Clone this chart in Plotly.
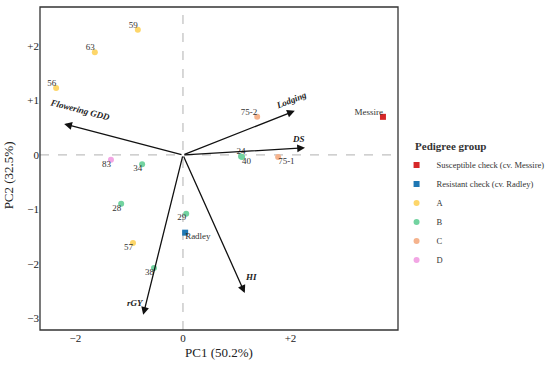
import plotly.graph_objects as go

# Genotype scores
names = ["59", "63", "56", "57", "83", "34", "28", "29", "38", "24", "40", "75-2", "75-1", "Messire", "Radley"]
groups = ["A", "A", "A", "A", "D", "B", "B", "B", "B", "B", "B", "C", "C",
          "Susceptible check (cv. Messire)", "Resistant check (cv. Radley)"]
pc1 = [-0.84, -1.64, -2.36, -0.93, -1.34, -0.76, -1.15, 0.06, -0.54, 1.08, 1.10, 1.38, 1.77, 3.72, 0.04]
pc2 = [2.30, 1.89, 1.23, -1.62, -0.09, -0.17, -0.90, -1.08, -2.08, -0.03, -0.04, 0.70, -0.04, 0.70, -1.43]

# Trait loadings (scaled)
traits = ["Flowering GDD", "Lodging", "DS", "HI", "rGY"]
load1 = [-2.21, 2.08, 2.27, 1.15, -0.74]
load2 = [0.57, 0.81, 0.13, -2.54, -2.94]

group_order = ["Susceptible check (cv. Messire)", "Resistant check (cv. Radley)", "A", "B", "C", "D"]
colors = {"Susceptible check (cv. Messire)": "#d62728", "Resistant check (cv. Radley)": "#1f77b4",
          "A": "#fdd66a", "B": "#72d3a0", "C": "#f5b38d", "D": "#f2a6e4"}
symbols = {"Susceptible check (cv. Messire)": "square", "Resistant check (cv. Radley)": "square"}

label_pos = {"59": "top left", "63": "top left", "56": "top left", "57": "bottom left", "83": "bottom left",
             "34": "bottom left", "28": "bottom left", "29": "bottom left", "38": "bottom left",
             "24": "top center", "40": "bottom right", "75-2": "top left", "75-1": "bottom right",
             "Messire": "top left", "Radley": "bottom right"}

FONT = "Liberation Serif, Times New Roman, serif"
XR = [-2.66, 4.0]
YR = [-3.22, 2.72]
fig = go.Figure()

# zero lines
fig.add_shape(type="line", x0=XR[0], x1=XR[1], y0=0, y1=0, line=dict(color="#b0b0b0", width=1, dash="dash"), layer="below")
fig.add_shape(type="line", x0=0, x1=0, y0=YR[0], y1=YR[1], line=dict(color="#b0b0b0", width=1, dash="dash"), layer="below")
# frame
fig.add_shape(type="rect", xref="paper", yref="paper", x0=0, x1=1, y0=0, y1=1,
              line=dict(color="#333", width=1.3))

for g in group_order:
    idx = [i for i, gg in enumerate(groups) if gg == g]
    fig.add_trace(go.Scatter(
        x=[pc1[i] for i in idx], y=[pc2[i] for i in idx],
        mode="markers", name=g,
        marker=dict(color=colors[g], size=6, symbol=symbols.get(g, "circle")),
        hoverinfo="skip"))

# point labels
fig.add_trace(go.Scatter(
    x=pc1, y=pc2, mode="text", text=names,
    textposition=[label_pos[n] for n in names],
    textfont=dict(family=FONT, size=9, color="#333"),
    showlegend=False, hoverinfo="skip"))

# arrows
for t, a, b in zip(traits, load1, load2):
    fig.add_annotation(x=a, y=b, ax=0, ay=0, xref="x", yref="y", axref="x", ayref="y",
                       showarrow=True, arrowhead=2, arrowsize=1.2, arrowwidth=1.3, arrowcolor="#111", text="")

label_cfg = {
    "Flowering GDD": dict(dx=0.3, dy=0.25, angle=14.6),
    "Lodging": dict(dx=-0.06, dy=0.2, angle=-21.4),
    "DS": dict(dx=-0.13, dy=0.16, angle=0),
    "HI": dict(dx=0.12, dy=0.3, angle=0),
    "rGY": dict(dx=-0.15, dy=0.22, angle=0),
}
for t, a, b in zip(traits, load1, load2):
    c = label_cfg[t]
    fig.add_annotation(x=a + c["dx"], y=b + c["dy"], xref="x", yref="y", text="<i><b>" + t + "</b></i>",
                       showarrow=False, textangle=c["angle"],
                       font=dict(family=FONT, size=9, color="#222"))

# axis titles
fig.add_annotation(x=0.5, y=-0.04, xref="paper", yref="paper", yanchor="top", showarrow=False,
                   text="PC1 (50.2%)", font=dict(size=13, family=FONT, color="#222"))
fig.add_annotation(x=-0.112, y=0.48, xref="paper", yref="paper", showarrow=False, textangle=-90,
                   text="PC2 (32.5%)", font=dict(size=13, family=FONT, color="#222"))

fig.update_layout(
    width=550, height=365, plot_bgcolor="white", paper_bgcolor="white",
    margin=dict(l=40, r=152, t=7, b=35, autoexpand=False),
    font=dict(family=FONT, color="#222"),
    legend=dict(title=dict(text="&nbsp;&nbsp;&nbsp;&nbsp;&nbsp;&nbsp;<b>Pedigree group</b>", font=dict(size=11, family=FONT)),
                x=0.996, xanchor="left", y=0.6, yanchor="top", bgcolor="rgba(0,0,0,0)",
                font=dict(size=8.5, family=FONT, color="#333"), itemsizing="trace", itemwidth=30, tracegroupgap=0),
)
fig.update_xaxes(range=XR, tickvals=[-2, 0, 2], ticktext=["\u22122", "0", "+2"],
                 showgrid=False, zeroline=False, showline=False,
                 ticks="", tickfont=dict(size=11, family=FONT))
fig.update_yaxes(range=YR, tickvals=[-3, -2, -1, 0, 1, 2],
                 ticktext=["\u22123", "\u22122", "\u22121", "0", "+1", "+2"],
                 showgrid=False, zeroline=False, showline=False,
                 ticks="", tickfont=dict(size=11, family=FONT))

fig.write_html("out.html", config={"displayModeBar": False},
               post_script="document.body.style.margin='0px';")
